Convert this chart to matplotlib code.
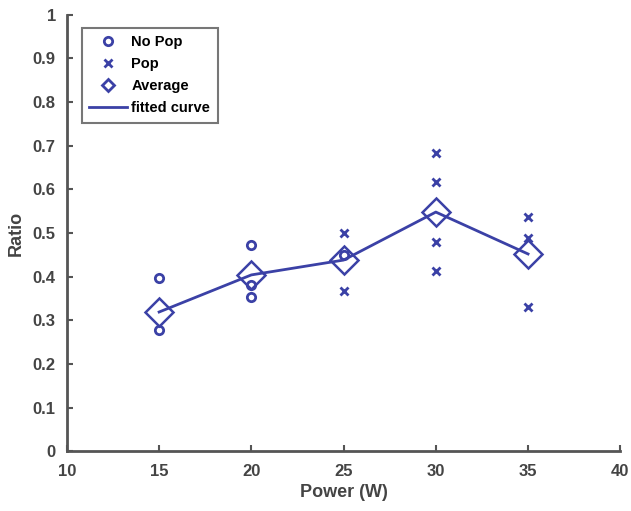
import numpy as np
import matplotlib.pyplot as plt

# measurements per power level
nopop_power = [15, 15, 20, 20, 20, 25]
nopop_ratio = [0.397, 0.277, 0.472, 0.381, 0.353, 0.450]
pop_power = [25, 25, 30, 30, 30, 30, 35, 35, 35]
pop_ratio = [0.500, 0.367, 0.684, 0.617, 0.479, 0.413, 0.537, 0.488, 0.330]
avg_power = [15, 20, 25, 30, 35]
avg_ratio = [0.319, 0.404, 0.438, 0.548, 0.452]

blue = '#3b41a6'
grey = '#555555'

plt.rcParams['font.family'] = 'Liberation Sans'
plt.rcParams['font.weight'] = 'bold'

fig = plt.figure(figsize=(6.31, 5.11), dpi=100)
ax = fig.add_axes([0.106, 0.117, 0.877, 0.854])

ax.plot(nopop_power, nopop_ratio, 'o', ms=6, mfc='none', mec=blue, mew=2, label='No Pop')
ax.plot(pop_power, pop_ratio, 'x', ms=6, mec=blue, mew=2, label='Pop')
ax.plot(avg_power, avg_ratio, 'D', ms=14.5, mfc='none', mec=blue, mew=1.8, label='Average')
ax.plot(avg_power, avg_ratio, '-', color=blue, lw=2, label='fitted curve')

ax.set_xlim(10, 40)
ax.set_ylim(0, 1)
ax.set_xticks([10, 15, 20, 25, 30, 35, 40])
ax.set_yticks(np.arange(0, 1.01, 0.1))
ax.set_yticklabels(['0'] + ['%.1f' % v for v in np.arange(0.1, 0.95, 0.1)] + ['1'])

for s in ['top', 'right']:
    ax.spines[s].set_visible(False)
for s in ['left', 'bottom']:
    ax.spines[s].set_color(grey)
    ax.spines[s].set_linewidth(2)
ax.tick_params(direction='in', length=4, width=1.5, color=grey, labelcolor='#444444', labelsize=12)
ax.tick_params(axis='x', pad=9)
ax.tick_params(axis='y', pad=8)

ax.set_xlabel('Power (W)', fontsize=13, fontweight='bold', color='#444444', labelpad=4)
ax.set_ylabel('Ratio', fontsize=13, fontweight='bold', color='#444444', labelpad=6)

leg = ax.legend(loc='upper left', bbox_to_anchor=(0.027, 0.970), borderaxespad=0, fontsize=10.5,
                frameon=True, fancybox=False, edgecolor=grey, handlelength=2.6, borderpad=0.5,
                labelspacing=0.55, handletextpad=0.3)
leg.get_frame().set_linewidth(1.5)
for h in leg.legend_handles:
    h.set_markersize(6)
    h.set_markeredgewidth(2)

fig.savefig('out.png', dpi=100)
